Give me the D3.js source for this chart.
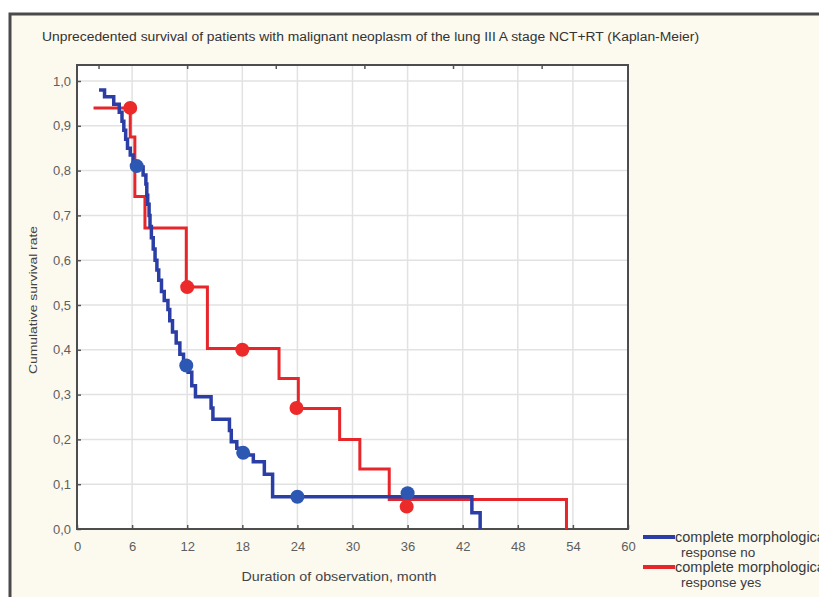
<!DOCTYPE html>
<html>
<head>
<meta charset="utf-8">
<script src="https://cdn.jsdelivr.net/npm/d3@7"></script>
<style>
body { margin: 0; background: #ffffff; }
text { font-family: "Liberation Sans", Arial, sans-serif; }
</style>
</head>
<body>
<div id="chart"></div>
<script>
//chart data
var xTicks = [0, 6, 12, 18, 24, 30, 36, 42, 48, 54, 60];
var yTicks = [0, 0.1, 0.2, 0.3, 0.4, 0.5, 0.6, 0.7, 0.8, 0.9, 1.0];
var topTicks = [2.4, 12.05, 21.7, 31.35, 41, 50.65];

//blue: complete morphological response no
var blueMonths = [2.4, 3.0, 4.0, 4.6, 4.9, 5.1, 5.3, 5.5, 5.8, 6.1, 6.6, 7.2, 7.5, 7.6, 7.7, 7.85, 7.95, 8.1, 8.3, 8.5, 8.7, 8.9, 9.2, 9.5, 9.9, 10.1, 10.4, 10.8, 11.2, 11.6, 12.1, 12.5, 12.9, 14.6, 14.8, 16.6, 16.8, 17.4, 18.0, 19.2, 20.4, 21.3, 43.0, 43.9];
var blueSurv = [0.98, 0.965, 0.948, 0.93, 0.91, 0.89, 0.87, 0.85, 0.835, 0.82, 0.808, 0.79, 0.77, 0.745, 0.725, 0.70, 0.675, 0.65, 0.625, 0.60, 0.578, 0.555, 0.53, 0.51, 0.49, 0.465, 0.44, 0.415, 0.39, 0.37, 0.35, 0.32, 0.295, 0.27, 0.245, 0.22, 0.195, 0.18, 0.165, 0.15, 0.122, 0.072, 0.036, 0];

//red: complete morphological response yes
var redMonths = [1.8, 5.8, 6.3, 7.4, 11.9, 14.2, 22.0, 24.1, 28.6, 30.8, 34.0, 53.3];
var redSurv = [0.94, 0.875, 0.742, 0.672, 0.54, 0.403, 0.336, 0.269, 0.20, 0.134, 0.066, 0];

//markers
var blueDotMonths = [6.5, 11.9, 18.1, 24, 36];
var blueDotSurv = [0.81, 0.365, 0.17, 0.072, 0.08];
var redDotMonths = [5.8, 12.0, 18.0, 23.9, 35.9];
var redDotSurv = [0.94, 0.54, 0.40, 0.27, 0.05];

var legendLabels = [["complete morphological", "response no"], ["complete morphological", "response yes"]];
var legendColors = ["#2b3ea6", "#e6262b"];

//svg dimensions
var svgWidth = 819;
var svgHeight = 597;

var svg = d3.select("#chart").append("svg")
    .attr("width", svgWidth)
    .attr("height", svgHeight);

//beige panel with border
svg.append("rect")
    .attr("x", 10)
    .attr("y", 14)
    .attr("width", 840)
    .attr("height", 620)
    .attr("fill", "#fcf9ee")
    .attr("stroke", "#4a4a4a")
    .attr("stroke-width", 3);

//scales
var xScale = d3.scaleLinear().domain([0, 60]).range([77, 628]);
var yScale = d3.scaleLinear().domain([0, 1]).range([529, 81]);
var plotTop = 65;

//plot area
svg.append("rect")
    .attr("x", xScale(0))
    .attr("y", plotTop)
    .attr("width", xScale(60) - xScale(0))
    .attr("height", yScale(0) - plotTop)
    .attr("fill", "#ffffff");

//grid
svg.append("g").selectAll("line")
    .data(xTicks.slice(1, -1))
    .enter()
    .append("line")
    .attr("x1", d => xScale(d))
    .attr("x2", d => xScale(d))
    .attr("y1", plotTop)
    .attr("y2", yScale(0))
    .attr("stroke", "#e2e2e2")
    .attr("stroke-width", 1.5);

svg.append("g").selectAll("line")
    .data(yTicks.slice(1))
    .enter()
    .append("line")
    .attr("x1", xScale(0))
    .attr("x2", xScale(60))
    .attr("y1", d => yScale(d))
    .attr("y2", d => yScale(d))
    .attr("stroke", "#e2e2e2")
    .attr("stroke-width", 1.5);

//axes
var fmt = d => d3.format(".1f")(d).replace(".", ",");

var xAxis = svg.append("g")
    .attr("transform", `translate(0, ${yScale(0)})`)
    .call(d3.axisBottom(xScale).tickValues(xTicks).tickSizeInner(-4).tickSizeOuter(0).tickPadding(13));

var yAxis = svg.append("g")
    .attr("transform", `translate(${xScale(0)}, 0)`)
    .call(d3.axisLeft(yScale).tickValues(yTicks).tickFormat(fmt).tickSizeInner(-4).tickSizeOuter(0).tickPadding(6));

[xAxis, yAxis].forEach(function (ax) {
    ax.select(".domain").remove();
    ax.selectAll(".tick line").attr("stroke", "#555").attr("stroke-width", 1.5);
    ax.selectAll(".tick text")
        .attr("fill", "#5e5e5e")
        .attr("font-size", "13px");
});

//top ticks
svg.append("g").selectAll("line")
    .data(topTicks)
    .enter()
    .append("line")
    .attr("x1", d => xScale(d))
    .attr("x2", d => xScale(d))
    .attr("y1", plotTop)
    .attr("y2", plotTop + 4)
    .attr("stroke", "#555")
    .attr("stroke-width", 1.5);

//frame
svg.append("rect")
    .attr("x", xScale(0))
    .attr("y", plotTop)
    .attr("width", xScale(60) - xScale(0))
    .attr("height", yScale(0) - plotTop)
    .attr("fill", "none")
    .attr("stroke", "#4d4d4d")
    .attr("stroke-width", 2);

//survival curves
var stepLine = d3.line()
    .x(d => xScale(d[0]))
    .y(d => yScale(d[1]))
    .curve(d3.curveStepAfter);

svg.append("path")
    .datum(redMonths.map((m, i) => [m, redSurv[i]]))
    .attr("d", stepLine)
    .attr("fill", "none")
    .attr("stroke", "#e6262b")
    .attr("stroke-width", 3);

svg.append("path")
    .datum(blueMonths.map((m, i) => [m, blueSurv[i]]))
    .attr("d", stepLine)
    .attr("fill", "none")
    .attr("stroke", "#2b3ea6")
    .attr("stroke-width", 3.5);

//markers
svg.append("g").selectAll("circle")
    .data(blueDotMonths.map((m, i) => [m, blueDotSurv[i]]))
    .enter()
    .append("circle")
    .attr("cx", d => xScale(d[0]))
    .attr("cy", d => yScale(d[1]))
    .attr("r", 7)
    .attr("fill", "#2c58b3");

svg.append("g").selectAll("circle")
    .data(redDotMonths.map((m, i) => [m, redDotSurv[i]]))
    .enter()
    .append("circle")
    .attr("cx", d => xScale(d[0]))
    .attr("cy", d => yScale(d[1]))
    .attr("r", 7)
    .attr("fill", "#ec2a2a");

//title
svg.append("text")
    .attr("x", 42)
    .attr("y", 41)
    .attr("font-size", "12.5px")
    .attr("fill", "#333")
    .attr("textLength", 657)
    .attr("lengthAdjust", "spacingAndGlyphs")
    .text("Unprecedented survival of patients with malignant neoplasm of the lung  III A stage NCT+RT (Kaplan-Meier)");

//axis labels
svg.append("text")
    .attr("transform", "translate(37, 300) rotate(-90)")
    .attr("text-anchor", "middle")
    .attr("font-size", "11.5px")
    .attr("fill", "#444")
    .attr("textLength", 148)
    .attr("lengthAdjust", "spacingAndGlyphs")
    .text("Cumulative survival rate");

svg.append("text")
    .attr("x", 339)
    .attr("y", 581)
    .attr("text-anchor", "middle")
    .attr("font-size", "12px")
    .attr("fill", "#444")
    .attr("textLength", 195)
    .attr("lengthAdjust", "spacingAndGlyphs")
    .text("Duration of observation, month");

//legend
var legend = svg.append("g");
legendLabels.forEach(function (lines, i) {
    var ly = 537 + i * 30;
    legend.append("line")
        .attr("x1", 643)
        .attr("x2", 675)
        .attr("y1", ly)
        .attr("y2", ly)
        .attr("stroke", legendColors[i])
        .attr("stroke-width", 4);
    legend.append("text")
        .attr("x", 675)
        .attr("y", ly + 5)
        .attr("font-size", "14.5px")
        .attr("fill", "#3a3a3a")
        .text(lines[0]);
    legend.append("text")
        .attr("x", 681)
        .attr("y", ly + 20)
        .attr("font-size", "13.5px")
        .attr("fill", "#3a3a3a")
        .text(lines[1]);
});
</script>
</body>
</html>
